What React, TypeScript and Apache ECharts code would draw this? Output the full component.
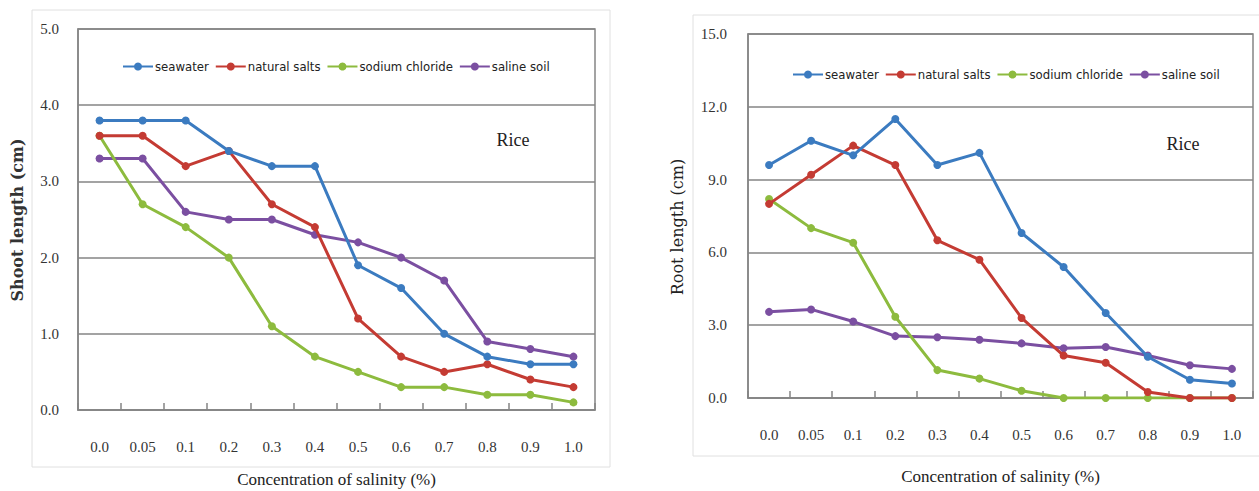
import React, { useEffect, useRef } from "react";
import * as echarts from "echarts";

const categories = ["0.0", "0.05", "0.1", "0.2", "0.3", "0.4", "0.5", "0.6", "0.7", "0.8", "0.9", "1.0"];
const seriesNames = ["seawater", "natural salts", "sodium chloride", "saline soil"];
const colors = ["#3b7bc0", "#c43b33", "#8dbb3e", "#7b4fa1"];

// Shoot length (cm)
const shootSeawater = [3.8, 3.8, 3.8, 3.4, 3.2, 3.2, 1.9, 1.6, 1.0, 0.7, 0.6, 0.6];
const shootNatural = [3.6, 3.6, 3.2, 3.4, 2.7, 2.4, 1.2, 0.7, 0.5, 0.6, 0.4, 0.3];
const shootSodium = [3.6, 2.7, 2.4, 2.0, 1.1, 0.7, 0.5, 0.3, 0.3, 0.2, 0.2, 0.1];
const shootSaline = [3.3, 3.3, 2.6, 2.5, 2.5, 2.3, 2.2, 2.0, 1.7, 0.9, 0.8, 0.7];

// Root length (cm)
const rootSeawater = [9.6, 10.6, 10.0, 11.5, 9.6, 10.1, 6.8, 5.4, 3.5, 1.7, 0.75, 0.6];
const rootNatural = [8.0, 9.2, 10.4, 9.6, 6.5, 5.7, 3.3, 1.75, 1.45, 0.25, 0.0, 0.0];
const rootSodium = [8.2, 7.0, 6.4, 3.35, 1.15, 0.8, 0.3, 0.0, 0.0, 0.0, 0.0, 0.0];
const rootSaline = [3.55, 3.65, 3.15, 2.55, 2.5, 2.4, 2.25, 2.05, 2.1, 1.75, 1.35, 1.2];

const shootTicks = { min: 0, max: 5, interval: 1 };
const rootTicks = { min: 0, max: 15, interval: 3 };

const xTitle = "Concentration of salinity (%)";
const yTitles = ["Shoot length (cm)", "Root length (cm)"];
const panelNote = "Rice";

const serif = "'Liberation Serif', 'DejaVu Serif', serif";
const wideSerif = "'DejaVu Serif', 'Liberation Serif', serif";
const narrow = "'Liberation Sans Narrow', 'DejaVu Sans Condensed', 'Liberation Sans', sans-serif";

export default function App() {
  const ref = useRef<HTMLDivElement>(null);
  useEffect(() => {
    if (!ref.current) return;
    const chart = echarts.init(ref.current, null, { renderer: "svg" });
    const grids = [
      { left: 78, top: 29, width: 517, height: 381 },
      { left: 748, top: 34, width: 505, height: 364 },
    ];
    const mkX = (i: number, gap: number) => ({
      type: "category",
      gridIndex: i,
      data: categories,
      boundaryGap: true,
      axisLine: { lineStyle: { color: "#858585", width: 1.5 } },
      axisTick: { show: true, inside: true, length: 7, lineStyle: { color: "#858585", width: 1.5 } },
      axisLabel: { margin: 29, fontFamily: serif, fontSize: 15, color: "#333" },
      name: xTitle,
      nameLocation: "middle",
      nameGap: gap,
      nameTextStyle: { fontFamily: serif, fontSize: 17, color: "#222" },
    });
    const mkY = (i: number, t: any, margin: number) => ({
      type: "value",
      gridIndex: i,
      min: t.min,
      max: t.max,
      interval: t.interval,
      axisLine: { show: true, lineStyle: { color: "#858585", width: 1.5 } },
      axisTick: { show: false },
      splitLine: { lineStyle: { color: "#858585", width: 1.5 } },
      axisLabel: { margin, fontFamily: serif, fontSize: 15, color: "#333", formatter: (v: number) => v.toFixed(1) },
    });
    const shootData = [shootSeawater, shootNatural, shootSodium, shootSaline];
    const rootData = [rootSeawater, rootNatural, rootSodium, rootSaline];
    const series: any[] = [];
    [shootData, rootData].forEach((set, gi) => {
      set.forEach((d, k) => {
        series.push({
          type: "line",
          name: seriesNames[k],
          xAxisIndex: gi,
          yAxisIndex: gi,
          data: d,
          color: colors[k],
          symbol: "circle",
          symbolSize: 8,
          lineStyle: { width: 3 },
          z: 10 - k,
        });
      });
    });
    const legendBase = {
      data: seriesNames,
      itemWidth: 30,
      itemHeight: 10,
      itemGap: 6,
      textStyle: { fontFamily: narrow, fontSize: 13, color: "#222", padding: [0, 0, 0, -3] },
    };
    chart.setOption({
      animation: false,
      grid: grids.map((g) => ({
        ...g,
        show: true,
        outerBoundsMode: "none",
        containLabel: false,
        borderColor: "#858585",
        borderWidth: 1.5,
        backgroundColor: "transparent",
      })),
      xAxis: [mkX(0, 61), mkX(1, 70)],
      yAxis: [mkY(0, shootTicks, 19), mkY(1, rootTicks, 21)],
      legend: [
        { ...legendBase, left: 117, top: 55 },
        { ...legendBase, left: 787, top: 63 },
      ],
      series,
      graphic: [
        { type: "rect", shape: { x: 32, y: 10, width: 578, height: 457 }, style: { fill: "none", stroke: "#e0e0e0", lineWidth: 1 }, silent: true },
        { type: "rect", shape: { x: 693, y: 15, width: 580, height: 441 }, style: { fill: "none", stroke: "#e0e0e0", lineWidth: 1 }, silent: true },
        { type: "text", x: 513, y: 140, style: { text: panelNote, fontFamily: serif, fontSize: 18, fill: "#222", align: "center", verticalAlign: "middle" } },
        { type: "text", x: 1183, y: 144, style: { text: panelNote, fontFamily: serif, fontSize: 18, fill: "#222", align: "center", verticalAlign: "middle" } },
        { type: "text", x: 17, y: 220, rotation: Math.PI / 2, style: { text: yTitles[0], fontFamily: wideSerif, fontSize: 16, fontWeight: "bold", fill: "#333", align: "center", verticalAlign: "middle" } },
        { type: "text", x: 677, y: 227, rotation: Math.PI / 2, style: { text: yTitles[1], fontFamily: wideSerif, fontSize: 16, fill: "#222", align: "center", verticalAlign: "middle" } },
      ],
    });
    return () => chart.dispose();
  }, []);
  return (
    <div
      ref={ref}
      style={{ position: "fixed", left: 0, top: 0, width: 1259, height: 491, background: "#fff" }}
    />
  );
}
